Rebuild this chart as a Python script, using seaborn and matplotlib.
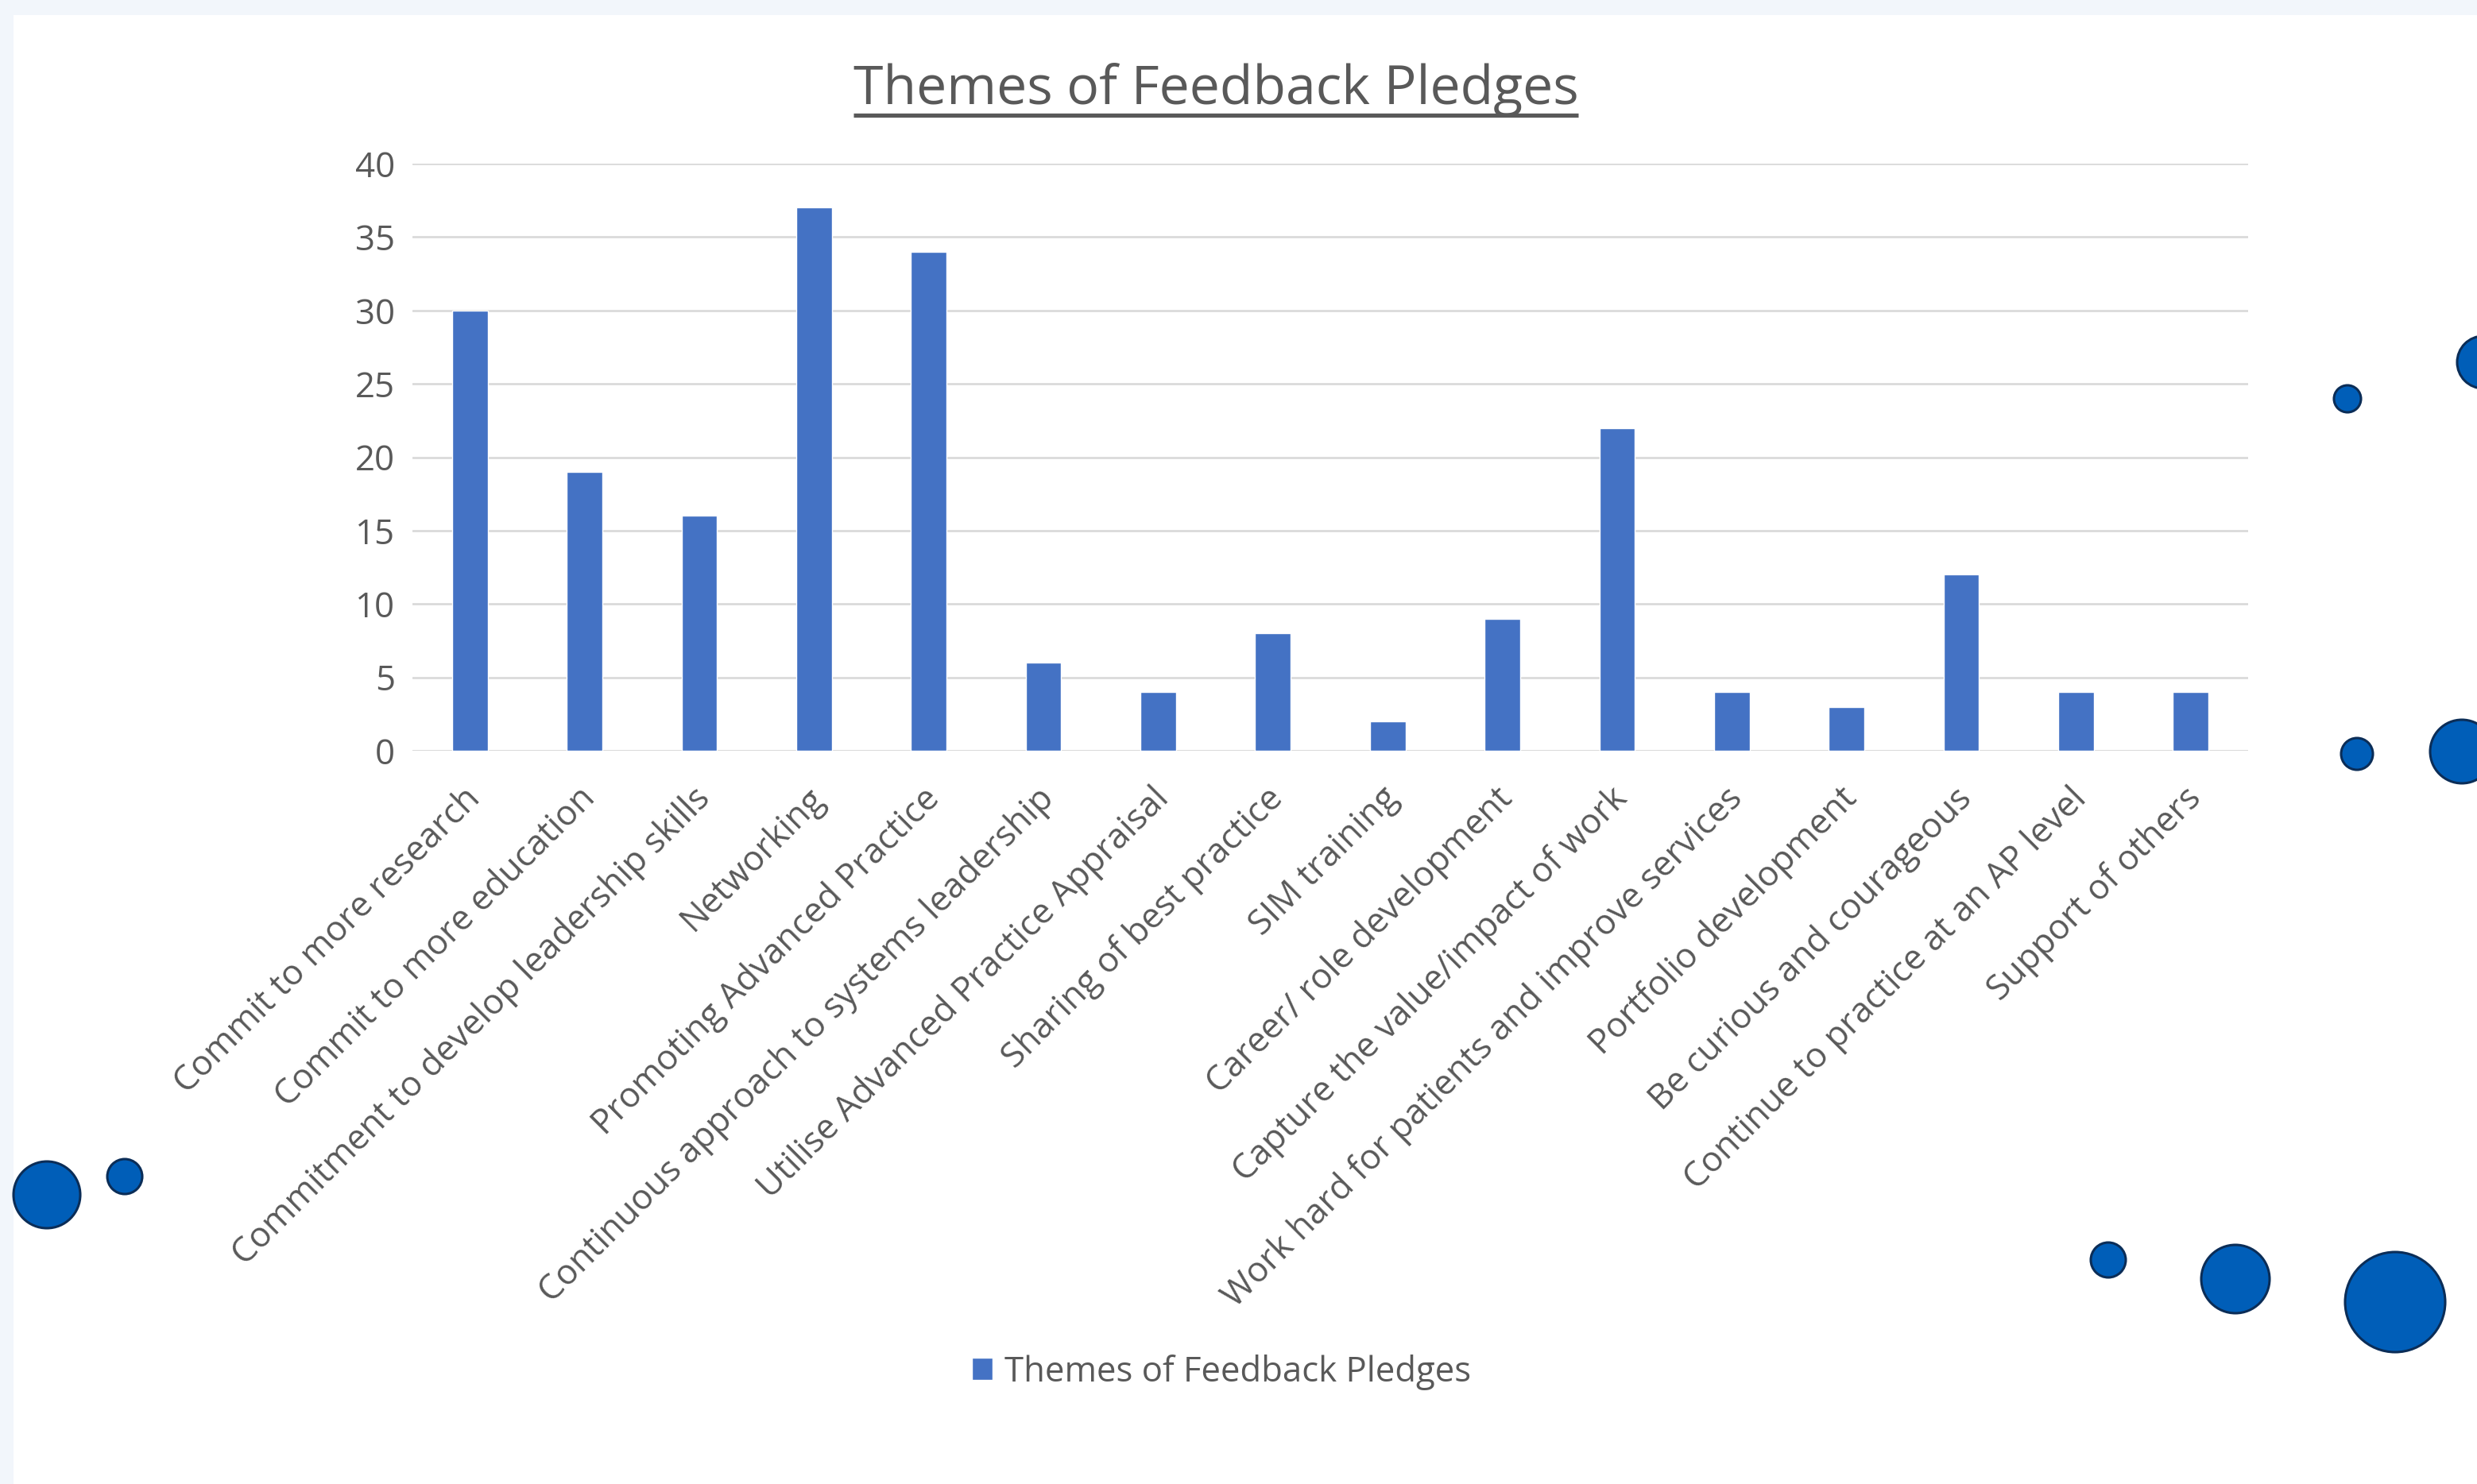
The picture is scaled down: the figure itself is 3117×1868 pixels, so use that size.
import matplotlib
matplotlib.use("Agg")
import matplotlib.pyplot as plt
import matplotlib.transforms as mtransforms
from matplotlib.patches import Circle, Rectangle
import seaborn as sns
import pandas as pd

# Feedback pledge themes and their counts
themes = [
    "Commit to more research",
    "Commit to more education",
    "Commitment to develop leadership skills",
    "Networking",
    "Promoting Advanced Practice",
    "Continuous approach to systems leadership",
    "Utilise Advanced Practice Appraisal",
    "Sharing of best practice",
    "SIM training",
    "Career/ role development",
    "Capture the value/impact of work",
    "Work hard for patients and improve services",
    "Portfolio development",
    "Be curious and courageous",
    "Continue to practice at an AP level",
    "Support of others",
]
counts = [30, 19, 16, 37, 34, 6, 4, 8, 2, 9, 22, 4, 3, 12, 4, 4]
y_ticks = [0, 5, 10, 15, 20, 25, 30, 35, 40]
series_name = "Themes of Feedback Pledges"

df = pd.DataFrame({"theme": themes, "count": counts})

sns.set_style("white")
plt.rcParams["font.family"] = ["Open Sans", "DejaVu Sans"]

W, H = 3117, 1868
text_col = "#595959"
bar_col = "#4472C4"
grid_col = "#D9D9D9"
fs = 31.5

fig = plt.figure(figsize=(W / 100, H / 100), dpi=100)
fig.patch.set_facecolor("white")

# decoration layer in pixel coordinates (origin top-left)
deco = fig.add_axes([0, 0, 1, 1], zorder=0)
deco.set_xlim(0, W)
deco.set_ylim(H, 0)
deco.axis("off")
band = "#F2F6FB"
deco.add_patch(Rectangle((0, 0), W, 19, color=band, lw=0))
deco.add_patch(Rectangle((0, 0), 17, H, color=band, lw=0))
for cx, cy, r in [(59, 1504, 42), (157, 1481, 22),
                  (2653, 1586, 22), (2813, 1610, 43), (3014, 1639, 63),
                  (2954, 502, 17), (3125, 456, 33),
                  (2966, 949, 20), (3098, 946, 40)]:
    deco.add_patch(Circle((cx, cy), r, facecolor="#005EB8",
                          edgecolor="#0B2D57", lw=2.2))

ax = fig.add_axes([519 / W, 1 - 945 / H, 2310 / W, (945 - 206) / H], zorder=1)
ax.patch.set_alpha(0)
sns.barplot(data=df, x="theme", y="count", color=bar_col, width=0.31,
            saturation=1, ax=ax, label=series_name, zorder=3)

ax.set_ylim(0, 40)
ax.set_yticks(y_ticks)
ax.set_xlim(-0.5, len(themes) - 0.5)
ax.yaxis.grid(True, color=grid_col, lw=1.9, zorder=0)
ax.set_axisbelow(True)
for s in ax.spines.values():
    s.set_visible(False)
ax.axhline(0, color=grid_col, lw=1.9, zorder=1)
ax.set_xlabel("")
ax.set_ylabel("")
ax.tick_params(axis="both", length=0, labelsize=fs, colors=text_col)
ax.tick_params(axis="y", pad=16)
ax.set_xticks(range(len(themes)))
ax.set_xticklabels(themes, rotation=45, ha="right", va="top",
                   rotation_mode="anchor", color=text_col)
ax.tick_params(axis="x", pad=26)
shift = mtransforms.ScaledTranslation(-0.09, -0.02, fig.dpi_scale_trans)
for lbl in ax.get_xticklabels():
    lbl.set_transform(lbl.get_transform() + shift)
if ax.get_legend() is not None:
    ax.get_legend().remove()

leg = fig.legend(handles=[ax.patches[0]], labels=[series_name],
                 loc="center", bbox_to_anchor=(1537 / W, 1 - 1727 / H),
                 frameon=False, fontsize=fs, handlelength=0.6,
                 handleheight=0.6, handletextpad=0.35)
for t in leg.get_texts():
    t.set_color(text_col)

title = fig.text(1530 / W, 1 - 131 / H, series_name, ha="center",
                 va="baseline", fontsize=49, color=text_col)

# underline the title
fig.canvas.draw()
bb = title.get_window_extent()
deco.plot([bb.x0, bb.x1], [144.5, 144.5], color=text_col, lw=3.8,
          solid_capstyle="butt")

fig.savefig("out.png", dpi=100)
